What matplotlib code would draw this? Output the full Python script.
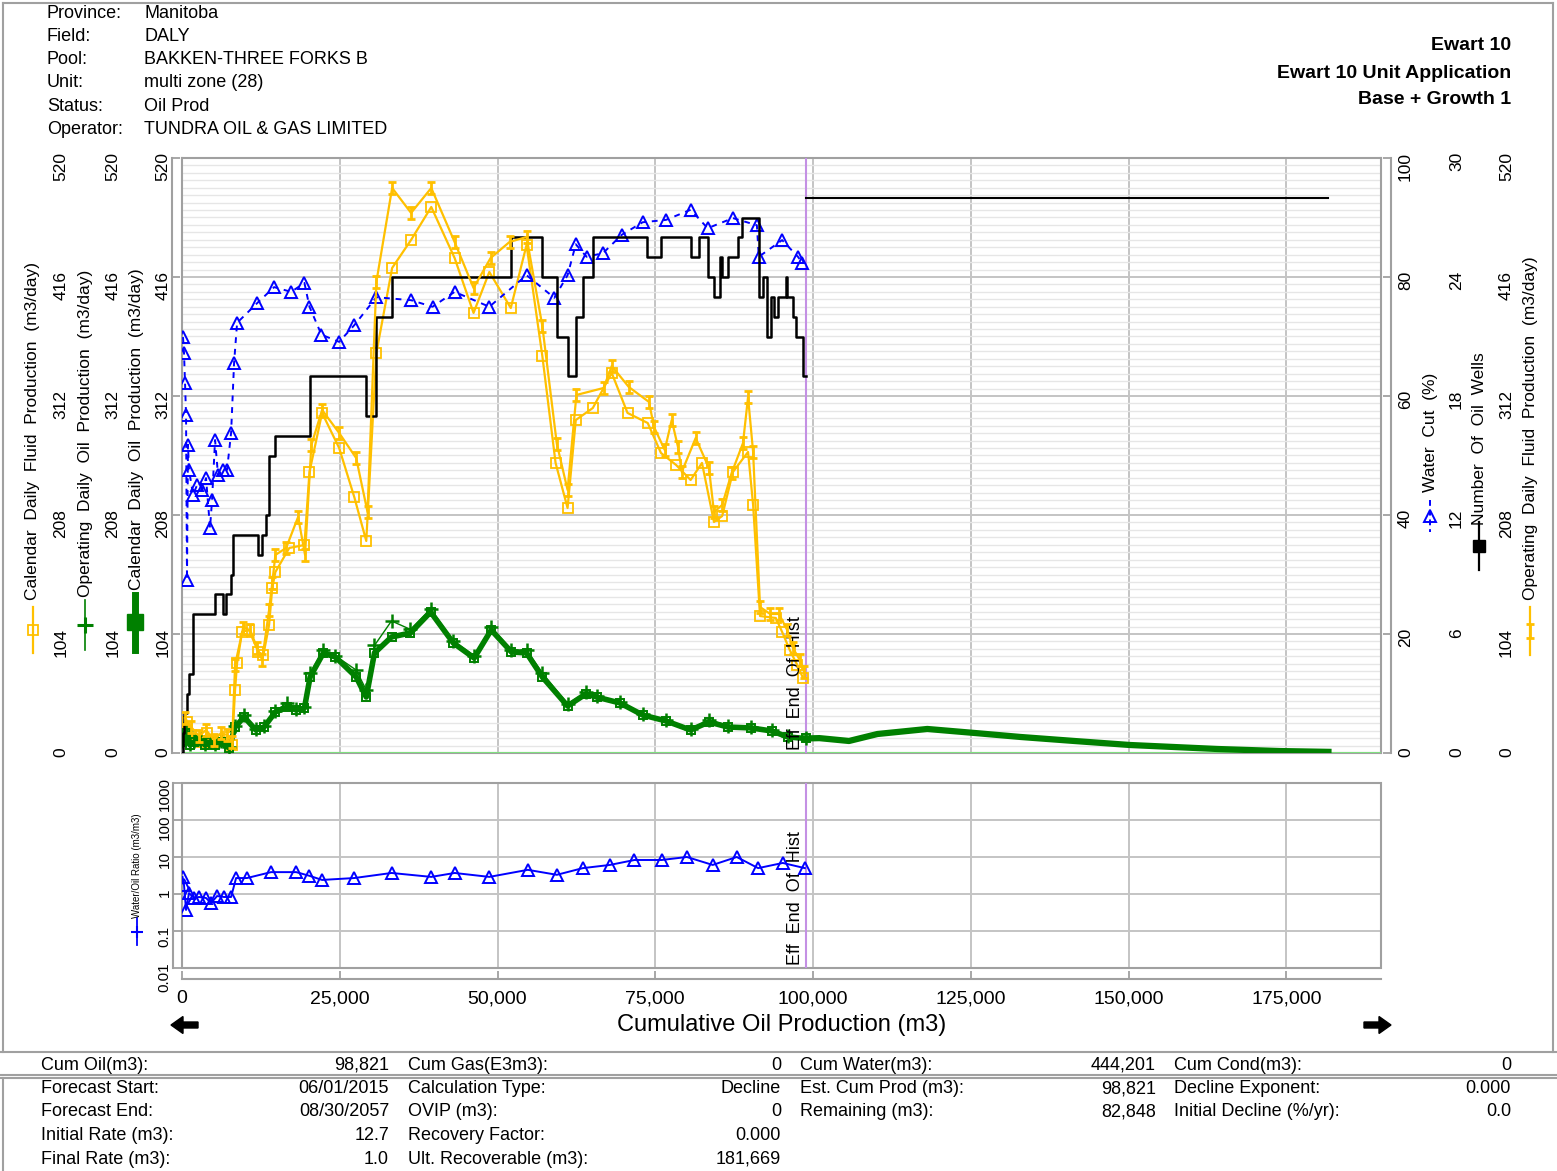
import matplotlib.pyplot as plt
from matplotlib.lines import Line2D
from matplotlib.patches import FancyArrow, Rectangle
from matplotlib.path import Path
from matplotlib.ticker import MultipleLocator, FixedLocator, FuncFormatter

plt.rcParams['font.family'] = ['Liberation Sans', 'DejaVu Sans']

W, H = 1557, 1171

# ---- header / footer text ----
info_labels = ['Province:', 'Field:', 'Pool:', 'Unit:', 'Status:', 'Operator:']
info_values = ['Manitoba', 'DALY', 'BAKKEN-THREE FORKS B', 'multi zone (28)',
               'Oil Prod', 'TUNDRA OIL & GAS LIMITED']
title_lines = ['Ewart 10', 'Ewart 10 Unit Application', 'Base + Growth 1']

summary_rows = [
    [('Cum Oil(m3):', '98,821'), ('Cum Gas(E3m3):', '0'),
     ('Cum Water(m3):', '444,201'), ('Cum Cond(m3):', '0')],
    [('Forecast Start:', '06/01/2015'), ('Calculation Type:', 'Decline'),
     ('Est. Cum Prod (m3):', '98,821'), ('Decline Exponent:', '0.000')],
    [('Forecast End:', '08/30/2057'), ('OVIP (m3):', '0'),
     ('Remaining (m3):', '82,848'), ('Initial Decline (%/yr):', '0.0')],
    [('Initial Rate (m3):', '12.7'), ('Recovery Factor:', '0.000')],
    [('Final Rate (m3):', '1.0'), ('Ult. Recoverable (m3):', '181,669')],
]

# ---- production history (x = cumulative oil, m3) ----
wells_cum = [0, 100, 300, 800, 1100, 1750, 5250, 6500, 7000, 7800, 8100, 12100,
             12700, 13300, 13800, 14800, 20300, 29200, 30800, 33300, 52100, 57100,
             59400, 61100, 62400, 63500, 65200, 73700, 75900, 80600, 81900, 83300,
             84300, 85200, 85600, 86500, 88100, 88700, 91400, 92100, 92700, 93300,
             93800, 94400, 95700, 95900, 96800, 97300, 98400, 98821]
wells = [0, 1, 2, 3, 4, 7, 8, 7, 8, 9, 11, 10, 11, 12, 15, 16, 19, 17, 22, 24, 26,
         24, 21, 19, 22, 24, 26, 25, 26, 25, 26, 24, 23, 25, 24, 25, 26, 27, 23,
         24, 21, 23, 22, 23, 24, 23, 22, 21, 19, 19]
wells_fc_cum = [98821, 181669]
wells_fc = [28, 28]

wc_cum = [160, 320, 480, 640, 790, 950, 1110, 1750, 2380, 3180, 3810, 4440, 4760,
          5240, 5710, 6510, 7140, 7780, 8250, 8730, 11900, 14600, 17300, 19400,
          20200, 22100, 24900, 27300, 30800, 36300, 39700, 43200, 48700, 54600,
          59000, 61100, 62400, 64100, 66700, 69700, 73000, 76700, 80600, 83300,
          87300, 91100, 91400, 95100, 97600, 98300]
water_cut = [69.9, 67.2, 62.2, 56.8, 29.1, 51.8, 47.6, 43.4, 45.0, 44.2, 46.2,
             37.8, 42.5, 52.6, 46.7, 47.6, 47.6, 53.8, 65.5, 72.3, 75.6, 78.3,
             77.5, 79.0, 75.0, 70.3, 69.1, 71.9, 76.6, 76.1, 75.0, 77.5, 75.0,
             80.3, 76.5, 80.3, 85.5, 83.4, 84.0, 87.1, 89.2, 89.6, 91.3, 88.2,
             89.9, 88.7, 83.4, 86.2, 83.4, 82.4]

cal_fluid_cum = [160, 790, 1430, 2220, 3180, 3970, 4920, 5870, 7140, 7940, 8410,
                 8730, 9520, 10600, 12100, 12900, 13800, 14300, 14800, 17000,
                 19400, 20200, 22200, 24900, 27300, 29200, 30800, 33300, 36300,
                 39500, 43200, 46200, 48700, 52100, 54600, 57100, 59200, 61100,
                 62400, 65100, 68100, 70600, 73800, 75900, 78300, 80600, 82400,
                 84300, 85600, 87300, 89700, 90500, 91600, 94100, 95100, 96300,
                 97500, 98400]
cal_fluid = [21.9, 27.1, 15.7, 11.4, 9.6, 17.5, 9.6, 11.4, 14.0, 7.0, 55.1, 78.7,
             105.8, 107.5, 88.3, 85.7, 111.9, 144.2, 158.2, 179.2, 181.8, 245.6,
             297.2, 266.6, 223.7, 185.3, 349.6, 423.9, 448.4, 477.2, 432.6, 384.6,
             420.4, 388.9, 444.0, 347.0, 253.5, 214.1, 291.0, 301.5, 332.1, 297.2,
             288.4, 262.2, 251.7, 238.6, 253.5, 201.9, 207.1, 245.6, 263.1, 216.8,
             119.7, 118.0, 105.8, 90.1, 76.9, 65.6]

op_fluid_cum = [480, 1430, 2700, 3810, 5080, 6190, 7140, 7940, 8410, 9680, 10800,
                11900, 12700, 13800, 14300, 14800, 16500, 18400, 19500, 20500,
                22200, 24900, 27600, 29400, 30800, 33300, 36300, 39500, 43200,
                46200, 48900, 51900, 54600, 57100, 59400, 61100, 62500, 66800,
                68100, 70800, 74000, 74800, 76500, 77600, 78600, 79200, 81400,
                83500, 84300, 85600, 87100, 88900, 89700, 90500, 91600, 93200,
                94600, 95900, 96800, 97900, 98600]
op_fluid = [30.6, 22.7, 14.9, 20.1, 11.4, 17.5, 15.7, 9.6, 76.9, 109.3, 107.5,
            91.8, 81.3, 125.0, 148.6, 173.1, 179.2, 206.3, 173.1, 269.2, 299.8,
            279.7, 257.8, 210.6, 411.7, 493.8, 472.0, 493.8, 446.6, 406.4, 432.6,
            446.6, 451.0, 373.2, 270.1, 229.9, 312.9, 319.0, 338.2, 319.9, 306.8,
            284.9, 264.8, 291.0, 267.4, 245.6, 275.3, 249.1, 210.6, 216.8, 244.7,
            270.9, 311.1, 263.1, 127.6, 121.5, 121.5, 107.5, 91.8, 81.3, 70.8]

oil_cum = [0, 640, 1270, 1900, 2860, 3650, 4440, 5240, 6190, 7460, 8410, 9840,
           11700, 13000, 14800, 16700, 18100, 19400, 20300, 22400, 24300, 27600,
           29200, 30500, 33200, 36200, 39400, 43000, 46300, 49000, 52200, 54600,
           57100, 61100, 64000, 65700, 69400, 73000, 76700, 80600, 83500, 86500,
           90200, 93500, 96000, 98821]
cal_oil = [9.6, 17.5, 7.0, 9.6, 11.4, 7.0, 9.6, 7.0, 9.6, 4.4, 22.7, 31.5, 20.1,
           22.7, 35.8, 40.2, 37.6, 39.3, 66.4, 87.4, 83.9, 66.4, 48.9, 87.4, 101.4,
           104.9, 123.2, 96.1, 83.0, 107.5, 88.3, 87.4, 66.4, 41.1, 51.6, 48.9,
           43.7, 33.2, 28.0, 20.1, 27.1, 22.7, 21.9, 19.2, 14.0, 12.7]
op_oil = [10.5, 19.0, 8.0, 10.5, 12.0, 8.0, 10.5, 8.0, 10.5, 5.0, 24.0, 33.2, 21.0,
          24.0, 37.0, 43.7, 38.5, 40.0, 70.0, 90.0, 85.0, 72.5, 55.0, 94.0, 115.4,
          108.0, 126.0, 98.0, 85.0, 110.0, 90.0, 90.0, 70.0, 43.0, 53.0, 50.0,
          45.0, 34.0, 29.0, 21.0, 29.0, 24.0, 23.0, 20.0, 15.0, 13.5]

# ---- decline forecast ----
fc_cum = [98821, 101000, 105700, 110200, 118100, 125600, 132900, 141400, 150200,
          164100, 174000, 181669]
fc_oil = [12.7, 13.0, 10.5, 16.6, 21.0, 17.5, 14.0, 10.5, 7.0, 3.5, 1.7, 1.0]

# ---- water / oil ratio ----
wor_cum = [80, 320, 640, 1110, 1900, 2700, 3810, 4600, 5560, 6670, 7780, 8570,
           10300, 14100, 18100, 20200, 22200, 27300, 33200, 39500, 43200, 48700,
           54800, 59400, 63500, 67800, 71700, 76000, 80000, 84100, 87900, 91300,
           95200, 98700]
wor = [2.9, 1.75, 0.37, 1.06, 0.78, 0.83, 0.78, 0.57, 0.88, 0.83, 0.83, 2.7, 2.7,
       3.9, 3.9, 3.1, 2.4, 2.7, 3.7, 2.9, 3.7, 2.9, 4.5, 3.3, 5.0, 6.1, 8.3, 8.3,
       10.0, 6.1, 10.0, 5.0, 6.9, 5.0]

eff_end_hist = 98821

frame_grey = '#a0a0a0'
grid_major = '#c4c4c4'
grid_minor = '#e6e6e6'
gold = '#ffc000'
green = '#008000'
blue = '#0000ff'
purple = '#c490e4'

# I-beam marker used for operating fluid
ibar = Path([(-0.6, 1), (0.6, 1), (0, 1), (0, -1), (-0.6, -1), (0.6, -1)],
            [Path.MOVETO, Path.LINETO, Path.MOVETO, Path.LINETO,
             Path.MOVETO, Path.LINETO])


def fx(x):
    return x / W


def fy(y):
    return 1 - y / H


fig = plt.figure(figsize=(W / 100, H / 100), dpi=100)

ax = fig.add_axes([fx(182), fy(753), (1381 - 182) / W, (753 - 158) / H])
ax2 = fig.add_axes([fx(182), fy(968), (1381 - 182) / W, (968 - 783) / H], sharex=ax)

# ---------- main panel ----------
ax.set_xlim(0, 190000)
ax.set_ylim(0, 520)
ax.xaxis.set_major_locator(MultipleLocator(25000))
ax.yaxis.set_major_locator(MultipleLocator(104))
ax.yaxis.set_minor_locator(MultipleLocator(6.5))
ax.set_axisbelow(True)
ax.grid(which='major', axis='both', color=grid_major, lw=1.4)
ax.grid(which='minor', axis='y', color=grid_minor, lw=1.0)
ax.tick_params(which='both', length=0, labelleft=False, labelbottom=False)
for sp in ax.spines.values():
    sp.set_color(frame_grey)
    sp.set_linewidth(1.5)

ax.axhline(0, color='#80e080', lw=2.2, zorder=3)
ax.axvline(eff_end_hist, color=purple, lw=1.5, zorder=3)
ax.annotate('Eff  End  Of  Hist', xy=(eff_end_hist, 0), xytext=(-1, 2),
            textcoords='offset points', rotation=90, ha='right', va='bottom',
            fontsize=13, zorder=6)

ax.plot(cal_fluid_cum, cal_fluid, color=gold, lw=1.6, marker='s', ms=7,
        mfc='none', mew=1.3, zorder=4)
ax.plot(oil_cum, op_oil, color=green, lw=1.0, marker='+', ms=10, mew=1.8, zorder=5)
ax.plot(oil_cum, cal_oil, color=green, lw=4, marker='s', ms=6, mfc='none',
        mew=1.4, zorder=5)
ax.plot(fc_cum, fc_oil, color=green, lw=4.5, zorder=5)


def side_axis(side, lo, hi, step, offset_px, show_spine, pad):
    a = ax.twinx()
    a.set_ylim(lo, hi)
    a.yaxis.set_major_locator(MultipleLocator(step))
    if side == 'left':
        a.yaxis.tick_left()
    else:
        a.yaxis.tick_right()
    for name, sp in a.spines.items():
        sp.set_visible(name == side and show_spine)
    a.spines[side].set_position(('outward', offset_px * 0.72))
    a.spines[side].set_color(frame_grey)
    a.spines[side].set_linewidth(1.5)
    a.tick_params(axis='y', direction='in', length=6 if show_spine else 0,
                  width=1.3, color=frame_grey, labelrotation=90, labelsize=12.5,
                  pad=pad)
    return a


side_axis('left', 0, 520, 104, 10, True, 1)
side_axis('left', 0, 520, 104, 60, False, 1)
side_axis('left', 0, 520, 104, 112, False, 1)

ax_wc = side_axis('right', 0, 100, 20, 10, True, 5)
ax_wl = side_axis('right', 0, 30, 6, 61, False, 5)
ax_of = side_axis('right', 0, 520, 104, 111, False, 5)

ax_wc.plot(wc_cum, water_cut, color=blue, lw=1.4, ls=(0, (3, 3)), marker='^',
           ms=9, mfc='none', mew=1.4, zorder=4)
ax_wl.step(wells_cum, wells, where='post', color='black', lw=1.8, zorder=4)
ax_wl.plot(wells_fc_cum, wells_fc, color='black', lw=1.5, zorder=4)
ax_of.plot(op_fluid_cum, op_fluid, color=gold, lw=1.6, marker=ibar, ms=9,
           mew=2, zorder=4)

# ---------- water/oil ratio panel ----------
ax2.set_yscale('log')
ax2.set_ylim(0.01, 1000)
ax2.yaxis.set_major_locator(FixedLocator([0.01, 0.1, 1, 10, 100, 1000]))
ax2.yaxis.set_minor_locator(FixedLocator([]))
ax2.yaxis.set_major_formatter(FuncFormatter(lambda v, p: f'{v:g}'))
ax2.xaxis.set_major_formatter(FuncFormatter(lambda v, p: f'{v:,.0f}'))
ax2.set_axisbelow(True)
ax2.grid(which='major', axis='both', color=grid_major, lw=1.4)
ax2.spines['top'].set_visible(False)
ax2.spines['right'].set_visible(False)
ax2.spines['left'].set_position(('outward', 9 * 0.72))
ax2.spines['bottom'].set_position(('outward', 11 * 0.72))
for name in ('left', 'bottom'):
    ax2.spines[name].set_color(frame_grey)
    ax2.spines[name].set_linewidth(1.5)
ax2.add_patch(Rectangle((0, 0), 1, 1, transform=ax2.transAxes, fill=False,
                        ec=frame_grey, lw=1.5, clip_on=False, zorder=1))
ax2.tick_params(axis='y', direction='in', length=6, width=1.3, color=frame_grey,
                labelrotation=90, labelsize=11, pad=1)
ax2.tick_params(axis='x', direction='in', length=6, width=1.3, color=frame_grey,
                labelsize=14, pad=8)

ax2.axvline(eff_end_hist, color=purple, lw=1.5, zorder=3)
ax2.annotate('Eff  End  Of  Hist', xy=(eff_end_hist, 0.01), xytext=(-1, 2),
             textcoords='offset points', rotation=90, ha='right', va='bottom',
             fontsize=13, zorder=6)
ax2.plot(wor_cum, wor, color=blue, lw=1.4, marker='^', ms=9, mfc='none',
         mew=1.4, zorder=4)

fig.text(fx(782), fy(1025), 'Cumulative Oil Production (m3)', fontsize=17,
         ha='center', va='center')
for tail, tip in [(198, 171), (1364, 1391)]:
    fig.add_artist(FancyArrow(tail / 100, (H - 1025) / 100, (tip - tail) / 100, 0,
                              width=0.06, head_width=0.17, head_length=0.12,
                              length_includes_head=True, color='black',
                              transform=fig.dpi_scale_trans))


# ---------- rotated axis titles with their legend glyphs ----------
def glyph(x, y0, y1, color, lw, ls='-', **marker):
    fig.add_artist(Line2D([fx(x)] * 3, [fy(y0), fy((y0 + y1) / 2), fy(y1)],
                          color=color, lw=lw, ls=ls, markevery=[1], **marker))


def axis_title(x, y_bottom, text, size=12.5):
    fig.text(fx(x), fy(y_bottom), text, rotation=90, ha='center', va='bottom',
             fontsize=size)


glyph(33, 607, 653, gold, 1.6, marker='s', ms=7, mfc='none', mec=gold, mew=1.3)
axis_title(33, 600, 'Calendar  Daily  Fluid  Production  (m3/day)')
glyph(85, 600, 650, green, 1.2, marker='+', ms=12, mew=2.2, mec=green)
axis_title(86, 597, 'Operating  Daily  Oil  Production  (m3/day)')
glyph(135, 595, 650, green, 5, marker='s', ms=11, mfc=green, mec=green)
axis_title(137, 590, 'Calendar  Daily  Oil  Production  (m3/day)')

glyph(1430, 500, 532, blue, 1.4, ls=(0, (3, 2)), marker='^', ms=9, mfc='none',
      mec=blue, mew=1.4)
axis_title(1430, 492, 'Water  Cut  (%)')
glyph(1479, 522, 570, 'black', 1.6, marker='s', ms=9, mfc='black', mec='black')
axis_title(1479, 525, 'Number  Of  Oil  Wells')
glyph(1530, 607, 655, gold, 1.6, marker=ibar, ms=10, mew=2, mec=gold)
axis_title(1530, 600, 'Operating  Daily  Fluid  Production  (m3/day)')

glyph(137, 918, 945, blue, 1.3, marker='+', ms=9, mew=1.5, mec=blue)
axis_title(137, 918, 'Water/Oil Ratio (m3/m3)', size=7)

# ---------- header ----------
for i, (lab, val) in enumerate(zip(info_labels, info_values)):
    y = 13 + i * 23.3
    fig.text(fx(47), fy(y), lab, fontsize=13, va='center')
    fig.text(fx(144), fy(y), val, fontsize=13, va='center')
for i, line in enumerate(title_lines):
    fig.text(fx(1511), fy(46 + i * 27), line, fontsize=14, fontweight='bold',
             ha='right', va='center')

# ---------- summary table ----------
label_x = [41, 408, 800, 1174]
value_x = [389, 781, 1156, 1511]
for r, row in enumerate(summary_rows):
    y = 1065 + r * 23.5
    for c, (lab, val) in enumerate(row):
        fig.text(fx(label_x[c]), fy(y), lab, fontsize=13, va='center')
        fig.text(fx(value_x[c]), fy(y), val, fontsize=13, va='center', ha='right')

# ---------- page frame ----------
def hline(y, x0=0, x1=W):
    fig.add_artist(Line2D([fx(x0), fx(x1)], [fy(y), fy(y)], color=frame_grey, lw=1.5))


def vline(x, y0, y1):
    fig.add_artist(Line2D([fx(x), fx(x)], [fy(y0), fy(y1)], color=frame_grey, lw=1.5))


hline(3, 3, 1553)
vline(3, 3, 1052)
vline(1553, 3, 1052)
hline(1052)
hline(1075)
hline(1078)
vline(3, 1078, H)

fig.savefig('out.png', dpi=100)
